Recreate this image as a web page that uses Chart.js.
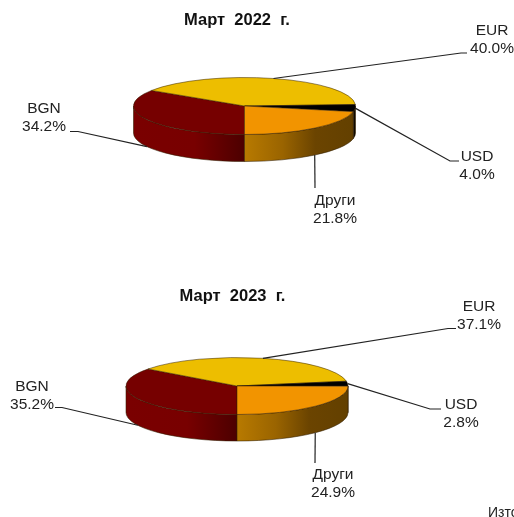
<!DOCTYPE html>
<html>
<head>
<meta charset="utf-8">
<script src="https://cdn.jsdelivr.net/npm/chart.js@4"></script>
<style>
html, body { margin: 0; padding: 0; background: #fff; overflow: hidden; }
canvas { position: absolute; left: 0; }
</style>
</head>
<body>
<canvas id="pie2022" width="514" height="258" style="top:0"></canvas>
<canvas id="pie2023" width="514" height="259" style="top:258px"></canvas>
<script>
const categories = ['BGN', 'EUR', 'USD', 'Други'];
const values2022 = [34.2, 40.0, 4.0, 21.8];
const values2023 = [35.2, 37.1, 2.8, 24.9];
const title2022 = 'Март  2022  г.';
const title2023 = 'Март  2023  г.';
const sourceText = 'Източник: БНБ';

const sliceColors = ['#760000', '#EDBE00', '#000000', '#F29400'];
// side wall gradients, left to right
const sideColors = [
    [[0, '#7a0000'], [0.55, '#780000'], [1, '#4c0000']],
    [[0, '#8a6e00'], [1, '#8a6e00']],
    [[0, '#000000'], [1, '#1a1000']],
    [[0, '#b87a00'], [0.35, '#9a6400'], [0.65, '#6b4400'], [1, '#634000']]
];

const font = '15.5px "Liberation Sans", Arial, sans-serif';
const sourceFont = '14px "Liberation Sans", Arial, sans-serif';
const lineColor = '#222';

// the pie is drawn flat by Chart.js and squeezed into an ellipse by the plugin below
const pieRadius = 111;
const pieRy = 28.5;

// x, y of the label centre and of the leader's elbow, canvas coords, per category
const layout2022 = {
    cx: 244.5, cy: 106, depth: 27, titleRight: 40, titleTop: 11,
    labels: [[44, 109], [492, 31], [477, 157], [335, 201]],
    elbows: [[[78, 131.5], [70, 131.5]], [[461, 53], [467, 53]], [[450, 161], [459, 161]], [[315, 188]]]
};
const layout2023 = {
    cx: 237, cy: 128, depth: 26.5, titleRight: 49, titleTop: 29,
    labels: [[32, 129], [479, 49], [461, 147], [333, 217]],
    elbows: [[[62, 149.5], [55, 149.5]], [[448, 70.5], [456, 70.5]], [[430, 151], [441, 151]], [[315, 205]]],
    source: sourceText
};

const squashedPie = {
    id: 'squashedPie',
    beforeDatasetsDraw(chart, args, opts) {
        const ctx = chart.ctx;
        const { cx, cy, depth } = opts.layout;
        const arcs = chart.getDatasetMeta(0).data;
        ctx.save();
        arcs.forEach((arc, i) => {
            // only the part of a slice facing the viewer gets a wall
            [[0, Math.PI], [2 * Math.PI, 3 * Math.PI]].forEach(range => {
                const a = Math.max(arc.startAngle, range[0]);
                const b = Math.min(arc.endAngle, range[1]);
                if (b <= a) return;
                const x0 = cx + pieRadius * Math.cos(b);
                const x1 = cx + pieRadius * Math.cos(a);
                const grad = ctx.createLinearGradient(x0, 0, x1, 0);
                sideColors[i].forEach(s => grad.addColorStop(s[0], s[1]));
                ctx.beginPath();
                ctx.ellipse(cx, cy, pieRadius, pieRy, 0, a, b);
                ctx.ellipse(cx, cy + depth, pieRadius, pieRy, 0, b, a, true);
                ctx.closePath();
                ctx.fillStyle = grad;
                ctx.fill();
                ctx.lineWidth = 0.7;
                ctx.strokeStyle = 'rgba(50,30,0,0.8)';
                ctx.stroke();
            });
        });
        ctx.restore();

        ctx.save();
        const c = arcs[0];
        ctx.translate(cx, cy);
        ctx.scale(1, pieRy / pieRadius);
        ctx.translate(-c.x, -c.y);
    },
    afterDatasetsDraw(chart) {
        chart.ctx.restore();
    },
    afterDraw(chart, args, opts) {
        const ctx = chart.ctx;
        const l = opts.layout;
        const arcs = chart.getDatasetMeta(0).data;
        const values = chart.data.datasets[0].data;
        ctx.save();
        arcs.forEach((arc, i) => {
            const mid = (arc.startAngle + arc.endAngle) / 2;
            const px = l.cx + pieRadius * Math.cos(mid);
            let py = l.cy + pieRy * Math.sin(mid);
            if (Math.sin(mid) > 0.3) py += l.depth;

            ctx.beginPath();
            ctx.moveTo(px, py);
            l.elbows[i].forEach(p => ctx.lineTo(p[0], p[1]));
            ctx.strokeStyle = lineColor;
            ctx.lineWidth = 1.2;
            ctx.stroke();

            ctx.font = font;
            ctx.fillStyle = lineColor;
            ctx.textAlign = 'center';
            ctx.textBaseline = 'middle';
            ctx.fillText(chart.data.labels[i], l.labels[i][0], l.labels[i][1]);
            ctx.fillText(values[i].toFixed(1) + '%', l.labels[i][0], l.labels[i][1] + 18);
        });
        if (l.source) {
            ctx.font = sourceFont;
            ctx.fillStyle = lineColor;
            ctx.textAlign = 'left';
            ctx.fillText(l.source, 488, 255);
        }
        ctx.restore();
    }
};

function makePie(id, values, titleText, pieLayout) {
    return new Chart(document.getElementById(id), {
        type: 'pie',
        data: {
            labels: categories,
            datasets: [{
                data: values,
                backgroundColor: sliceColors,
                borderColor: 'rgba(50,30,0,0.8)',
                borderWidth: 1,
                radius: pieRadius,
                rotation: 180
            }]
        },
        options: {
            responsive: false,
            animation: false,
            layout: { padding: { right: pieLayout.titleRight } },
            plugins: {
                legend: { display: false },
                tooltip: { enabled: false },
                title: {
                    display: true,
                    text: titleText,
                    color: '#111',
                    font: { family: '"Liberation Sans", Arial, sans-serif', size: 16.5, weight: 'bold' },
                    padding: { top: pieLayout.titleTop, bottom: 0 }
                },
                squashedPie: { layout: pieLayout }
            }
        },
        plugins: [squashedPie]
    });
}

makePie('pie2022', values2022, title2022, layout2022);
makePie('pie2023', values2023, title2023, layout2023);
</script>
</body>
</html>
